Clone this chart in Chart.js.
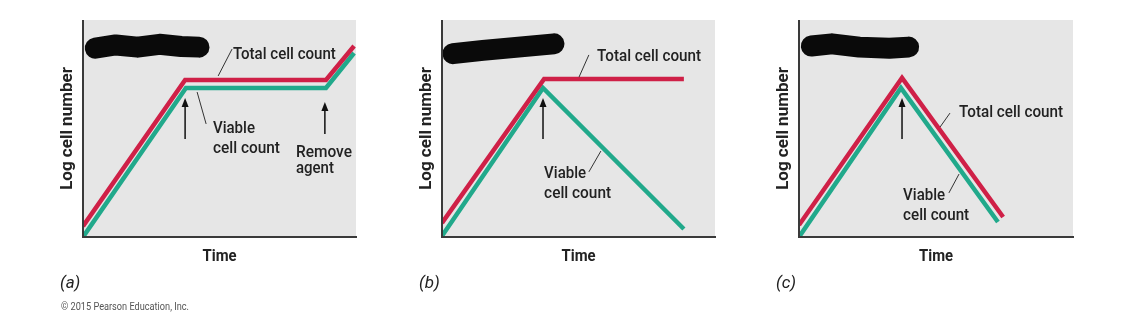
<!DOCTYPE html>
<html>
<head>
<meta charset="utf-8">
<script src="https://cdn.jsdelivr.net/npm/chart.js@4"></script>
<style>
  body { margin: 0; background: #fff; width: 1127px; height: 316px; overflow: hidden; position: relative; }
  canvas { position: absolute; top: 10px; }
  #chartA { left: 40px; }
  #chartB { left: 400px; }
  #chartC { left: 757px; }
</style>
</head>
<body>
<canvas id="chartA" width="330" height="306"></canvas>
<canvas id="chartB" width="330" height="306"></canvas>
<canvas id="chartC" width="330" height="306"></canvas>
<script>
// time and log cell number in arbitrary units (0-100)

// (a) agent stops growth, cells stay alive
const timeTotalA = [0, 37.4, 89, 99.3];
const totalA = [5, 72.4, 72.4, 88];
const timeViableA = [0, 37.7, 89, 99.3];
const viableA = [0, 68.7, 68.7, 84.8];

// (b) cells die but stay intact
const timeTotalB = [0, 37.4, 88.6];
const totalB = [6.5, 72.8, 72.8];
const timeViableB = [0, 37, 88.6];
const viableB = [0.5, 68.7, 3.7];

// (c) cells die and lyse
const timeTotalC = [0, 37.6, 74.5];
const totalC = [5.5, 73.3, 9.2];
const timeViableC = [0, 37.2, 72.6];
const viableC = [0, 68.7, 6.9];

// blacked-out scribble in the upper left of each panel
const scribbleTimeA = [4.5, 12, 20, 28, 36, 42.5];
const scribbleA = [87, 88.5, 87.5, 88.8, 87.8, 87.5];
const scribbleTimeB = [4, 15, 28, 41];
const scribbleB = [84.5, 86, 87.5, 89];
const scribbleTimeC = [4.5, 12, 22, 33, 40];
const scribbleC = [88, 89, 87.5, 87, 87.5];

const RED = "#cf2047";
const GREEN = "#21a98b";
const FONT = 'Roboto, "Liberation Sans", sans-serif';

function pts(xs, ys) {
  return xs.map((x, i) => ({ x, y: ys[i] }));
}

// annotation layout per panel, in data units
const notes = {
  a: {
    label: "(a)",
    copyright: true,
    texts: [
      { t: "Total cell count", x: 54.9, y: 82.0, w: 103 },
      { t: "Viable", x: 47.6, y: 47.9, w: 42 },
      { t: "cell count", x: 47.6, y: 38.7, w: 67 },
      { t: "Remove", x: 78.0, y: 36.9, w: 56 },
      { t: "agent", x: 78.0, y: 29.5, w: 38 }
    ],
    leaders: [[54.6, 86.6, 49.5, 74.2], [41.8, 66.8, 45.1, 52.1]],
    arrows: [[37.4, 64.1, 45.2], [88.6, 62.2, 47.5]]
  },
  b: {
    label: "(b)",
    texts: [
      { t: "Total cell count", x: 56.8, y: 81.1, w: 104 },
      { t: "Viable", x: 37.4, y: 27.2, w: 42 },
      { t: "cell count", x: 37.4, y: 18.0, w: 67 }
    ],
    leaders: [[53.8, 83.9, 50.2, 73.7], [53.8, 30.0, 58.2, 39.6]],
    arrows: [[37.0, 64.1, 45.2]]
  },
  c: {
    label: "(c)",
    texts: [
      { t: "Total cell count", x: 58.4, y: 55.3, w: 104 },
      { t: "Viable", x: 38.0, y: 17.1, w: 42 },
      { t: "cell count", x: 38.0, y: 7.8, w: 66 }
    ],
    leaders: [[55.1, 57.1, 51.5, 50.7], [54.7, 20.3, 58.4, 29.0]],
    arrows: [[37.6, 64.1, 45.2]]
  }
};

const panelPlugin = {
  id: "panel",
  beforeDraw(chart) {
    const { ctx, chartArea: a } = chart;
    ctx.save();
    ctx.fillStyle = "#e6e6e6";
    ctx.fillRect(a.left, a.top, a.right - a.left, a.bottom - a.top);
    ctx.restore();
  },
  afterDraw(chart) {
    const { ctx, chartArea: a, scales } = chart;
    const n = chart.options.plugins.panel.notes;
    const px = v => scales.x.getPixelForValue(v);
    const py = v => scales.y.getPixelForValue(v);
    ctx.save();

    // axes
    ctx.strokeStyle = "#3a3a3a";
    ctx.lineWidth = 2;
    ctx.beginPath();
    ctx.moveTo(a.left, a.top);
    ctx.lineTo(a.left, a.bottom);
    ctx.lineTo(a.right + 1, a.bottom);
    ctx.stroke();

    // leader lines
    ctx.strokeStyle = "#333";
    ctx.lineWidth = 1;
    n.leaders.forEach(l => {
      ctx.beginPath();
      ctx.moveTo(px(l[0]), py(l[1]));
      ctx.lineTo(px(l[2]), py(l[3]));
      ctx.stroke();
    });

    // arrows
    ctx.strokeStyle = "#111";
    ctx.fillStyle = "#111";
    ctx.lineWidth = 1.5;
    n.arrows.forEach(r => {
      const x = px(r[0]), tip = py(r[1]), end = py(r[2]);
      ctx.beginPath();
      ctx.moveTo(x, end);
      ctx.lineTo(x, tip + 6);
      ctx.stroke();
      ctx.beginPath();
      ctx.moveTo(x, tip);
      ctx.lineTo(x - 3.5, tip + 9);
      ctx.lineTo(x + 3.5, tip + 9);
      ctx.closePath();
      ctx.fill();
    });

    // labels inside the plot
    ctx.fillStyle = "#222";
    ctx.font = "500 16px " + FONT;
    ctx.textAlign = "left";
    ctx.textBaseline = "alphabetic";
    n.texts.forEach(t => ctx.fillText(t.t, px(t.x), py(t.y), t.w));

    // axis titles
    ctx.font = "bold 16px " + FONT;
    ctx.textAlign = "center";
    ctx.textBaseline = "middle";
    ctx.fillText("Time", (a.left + a.right) / 2, a.bottom + 20, 34);
    ctx.save();
    ctx.translate(a.left - 15, (a.top + a.bottom) / 2);
    ctx.rotate(-Math.PI / 2);
    ctx.font = "bold 17px " + FONT;
    ctx.fillText("Log cell number", 0, 0, 134);
    ctx.restore();

    // panel letter and credit
    ctx.textAlign = "left";
    ctx.font = "italic 17px " + FONT;
    ctx.fillText(n.label, a.left - 23, a.bottom + 47);
    if (n.copyright) {
      ctx.fillStyle = "#555";
      ctx.font = "10px " + FONT;
      ctx.fillText("© 2015 Pearson Education, Inc.", a.left - 22, a.bottom + 70, 128);
    }
    ctx.restore();
  }
};

function makePanel(id, total, viable, scribble, n, padLeft, padRight) {
  new Chart(document.getElementById(id), {
    type: "line",
    data: {
      datasets: [
        {
          label: "scribble",
          data: scribble,
          borderColor: "#0a0a0a",
          borderWidth: 21,
          borderCapStyle: "round",
          borderJoinStyle: "round"
        },
        {
          label: "Total cell count",
          data: total,
          borderColor: RED,
          borderWidth: 4.5
        },
        {
          label: "Viable cell count",
          data: viable,
          borderColor: GREEN,
          borderWidth: 4.5
        }
      ]
    },
    options: {
      responsive: false,
      animation: false,
      layout: { padding: { left: padLeft, right: padRight, top: 10, bottom: 79 } },
      elements: { point: { radius: 0 }, line: { tension: 0 } },
      scales: {
        x: { type: "linear", min: 0, max: 100, display: false },
        y: { type: "linear", min: 0, max: 100, display: false }
      },
      plugins: {
        legend: { display: false },
        tooltip: { enabled: false },
        panel: { notes: n }
      }
    },
    plugins: [panelPlugin]
  });
}

makePanel("chartA", pts(timeTotalA, totalA), pts(timeViableA, viableA), pts(scribbleTimeA, scribbleA), notes.a, 43, 14);
makePanel("chartB", pts(timeTotalB, totalB), pts(timeViableB, viableB), pts(scribbleTimeB, scribbleB), notes.b, 42, 15);
makePanel("chartC", pts(timeTotalC, totalC), pts(timeViableC, viableC), pts(scribbleTimeC, scribbleC), notes.c, 42, 14);
</script>
</body>
</html>
